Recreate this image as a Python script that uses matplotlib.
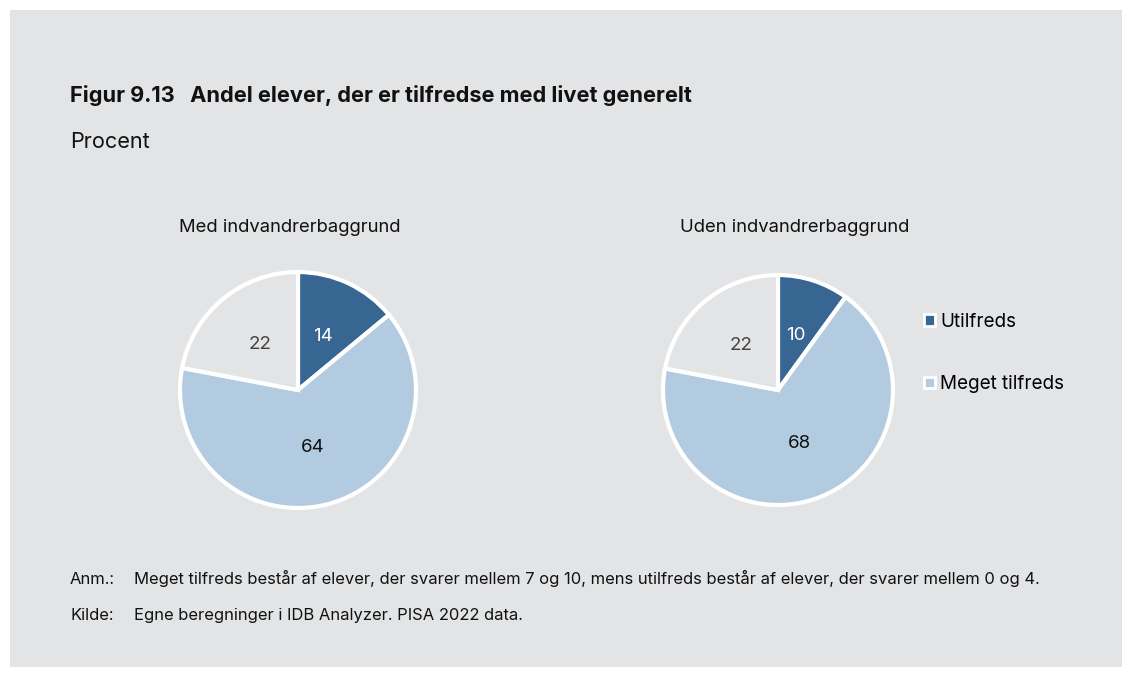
import matplotlib.pyplot as plt
from matplotlib.patches import Rectangle

plt.rcParams['font.family'] = ['Inter', 'DejaVu Sans']

groups = ["Med indvandrerbaggrund", "Uden indvandrerbaggrund"]
utilfreds = [14, 10]
meget_tilfreds = [64, 68]
oevrige = [22, 22]
legend_labels = ["Utilfreds", "Meget tilfreds"]

bg = "#e3e4e6"
colors = ["#376692", "#b3cbe0", bg]
label_colors = ["white", "#111111", "#444444"]

W, H = 1132, 677
fig = plt.figure(figsize=(W / 100, H / 100), dpi=100)
fig.patch.set_facecolor("white")
fig.patches.append(Rectangle((10 / W, 10 / H), 1112 / W, 657 / H,
                             transform=fig.transFigure, facecolor=bg,
                             edgecolor="none", zorder=-5))

# pie positions in pixels: centre x, centre y (from top), radius
pies = [(298, 390, 118), (778, 390, 115)]
title_x = [290, 795]

wedges = None
for i, (cx, cy, r) in enumerate(pies):
    ax = fig.add_axes([(cx - r) / W, (H - cy - r) / H, 2 * r / W, 2 * r / H])
    ax.set_facecolor("none")
    vals = [utilfreds[i], meget_tilfreds[i], oevrige[i]]
    w, t = ax.pie(vals, colors=colors, startangle=90, counterclock=False,
                  labels=[str(v) for v in vals], labeldistance=0.5,
                  wedgeprops=dict(edgecolor="white", linewidth=3),
                  textprops=dict(fontsize=13.5))
    for txt, c in zip(t, label_colors):
        txt.set_color(c)
        txt.set_ha("center")
        txt.set_va("center")
    ax.set_aspect("equal")
    ax.set_xlim(-1.0, 1.0)
    ax.set_ylim(-1.0, 1.0)
    fig.text(title_x[i] / W, 1 - 227 / H, groups[i], ha="center", va="center",
             fontsize=13.3, color="#111111")
    if wedges is None:
        wedges = w

leg = fig.legend(wedges[:2], legend_labels, loc="center left",
                 bbox_to_anchor=(915 / W, 1 - 353 / H), frameon=False,
                 fontsize=13.6, handlelength=0.55, handleheight=0.55,
                 handletextpad=0.3, labelspacing=2.35, borderpad=0)
for h in leg.legend_handles:
    h.set_linewidth(2)

fig.text(70 / W, 1 - 96 / H, "Figur 9.13   Andel elever, der er tilfredse med livet generelt",
         ha="left", va="center", fontsize=15.7, fontweight="bold", color="#111111")
fig.text(70 / W, 1 - 142 / H, "Procent", ha="left", va="center",
         fontsize=15.6, color="#111111")

notes = [("Anm.:", "Meget tilfreds består af elever, der svarer mellem 7 og 10, mens utilfreds består af elever, der svarer mellem 0 og 4."),
         ("Kilde:", "Egne beregninger i IDB Analyzer. PISA 2022 data.")]
for (head, body), y in zip(notes, [584, 620]):
    fig.text(70 / W, 1 - y / H, head, ha="left", va="baseline", fontsize=11.95, color="#111111")
    fig.text(134 / W, 1 - y / H, body, ha="left", va="baseline", fontsize=11.95, color="#111111")

fig.savefig("out.png", dpi=100, facecolor=fig.get_facecolor())
